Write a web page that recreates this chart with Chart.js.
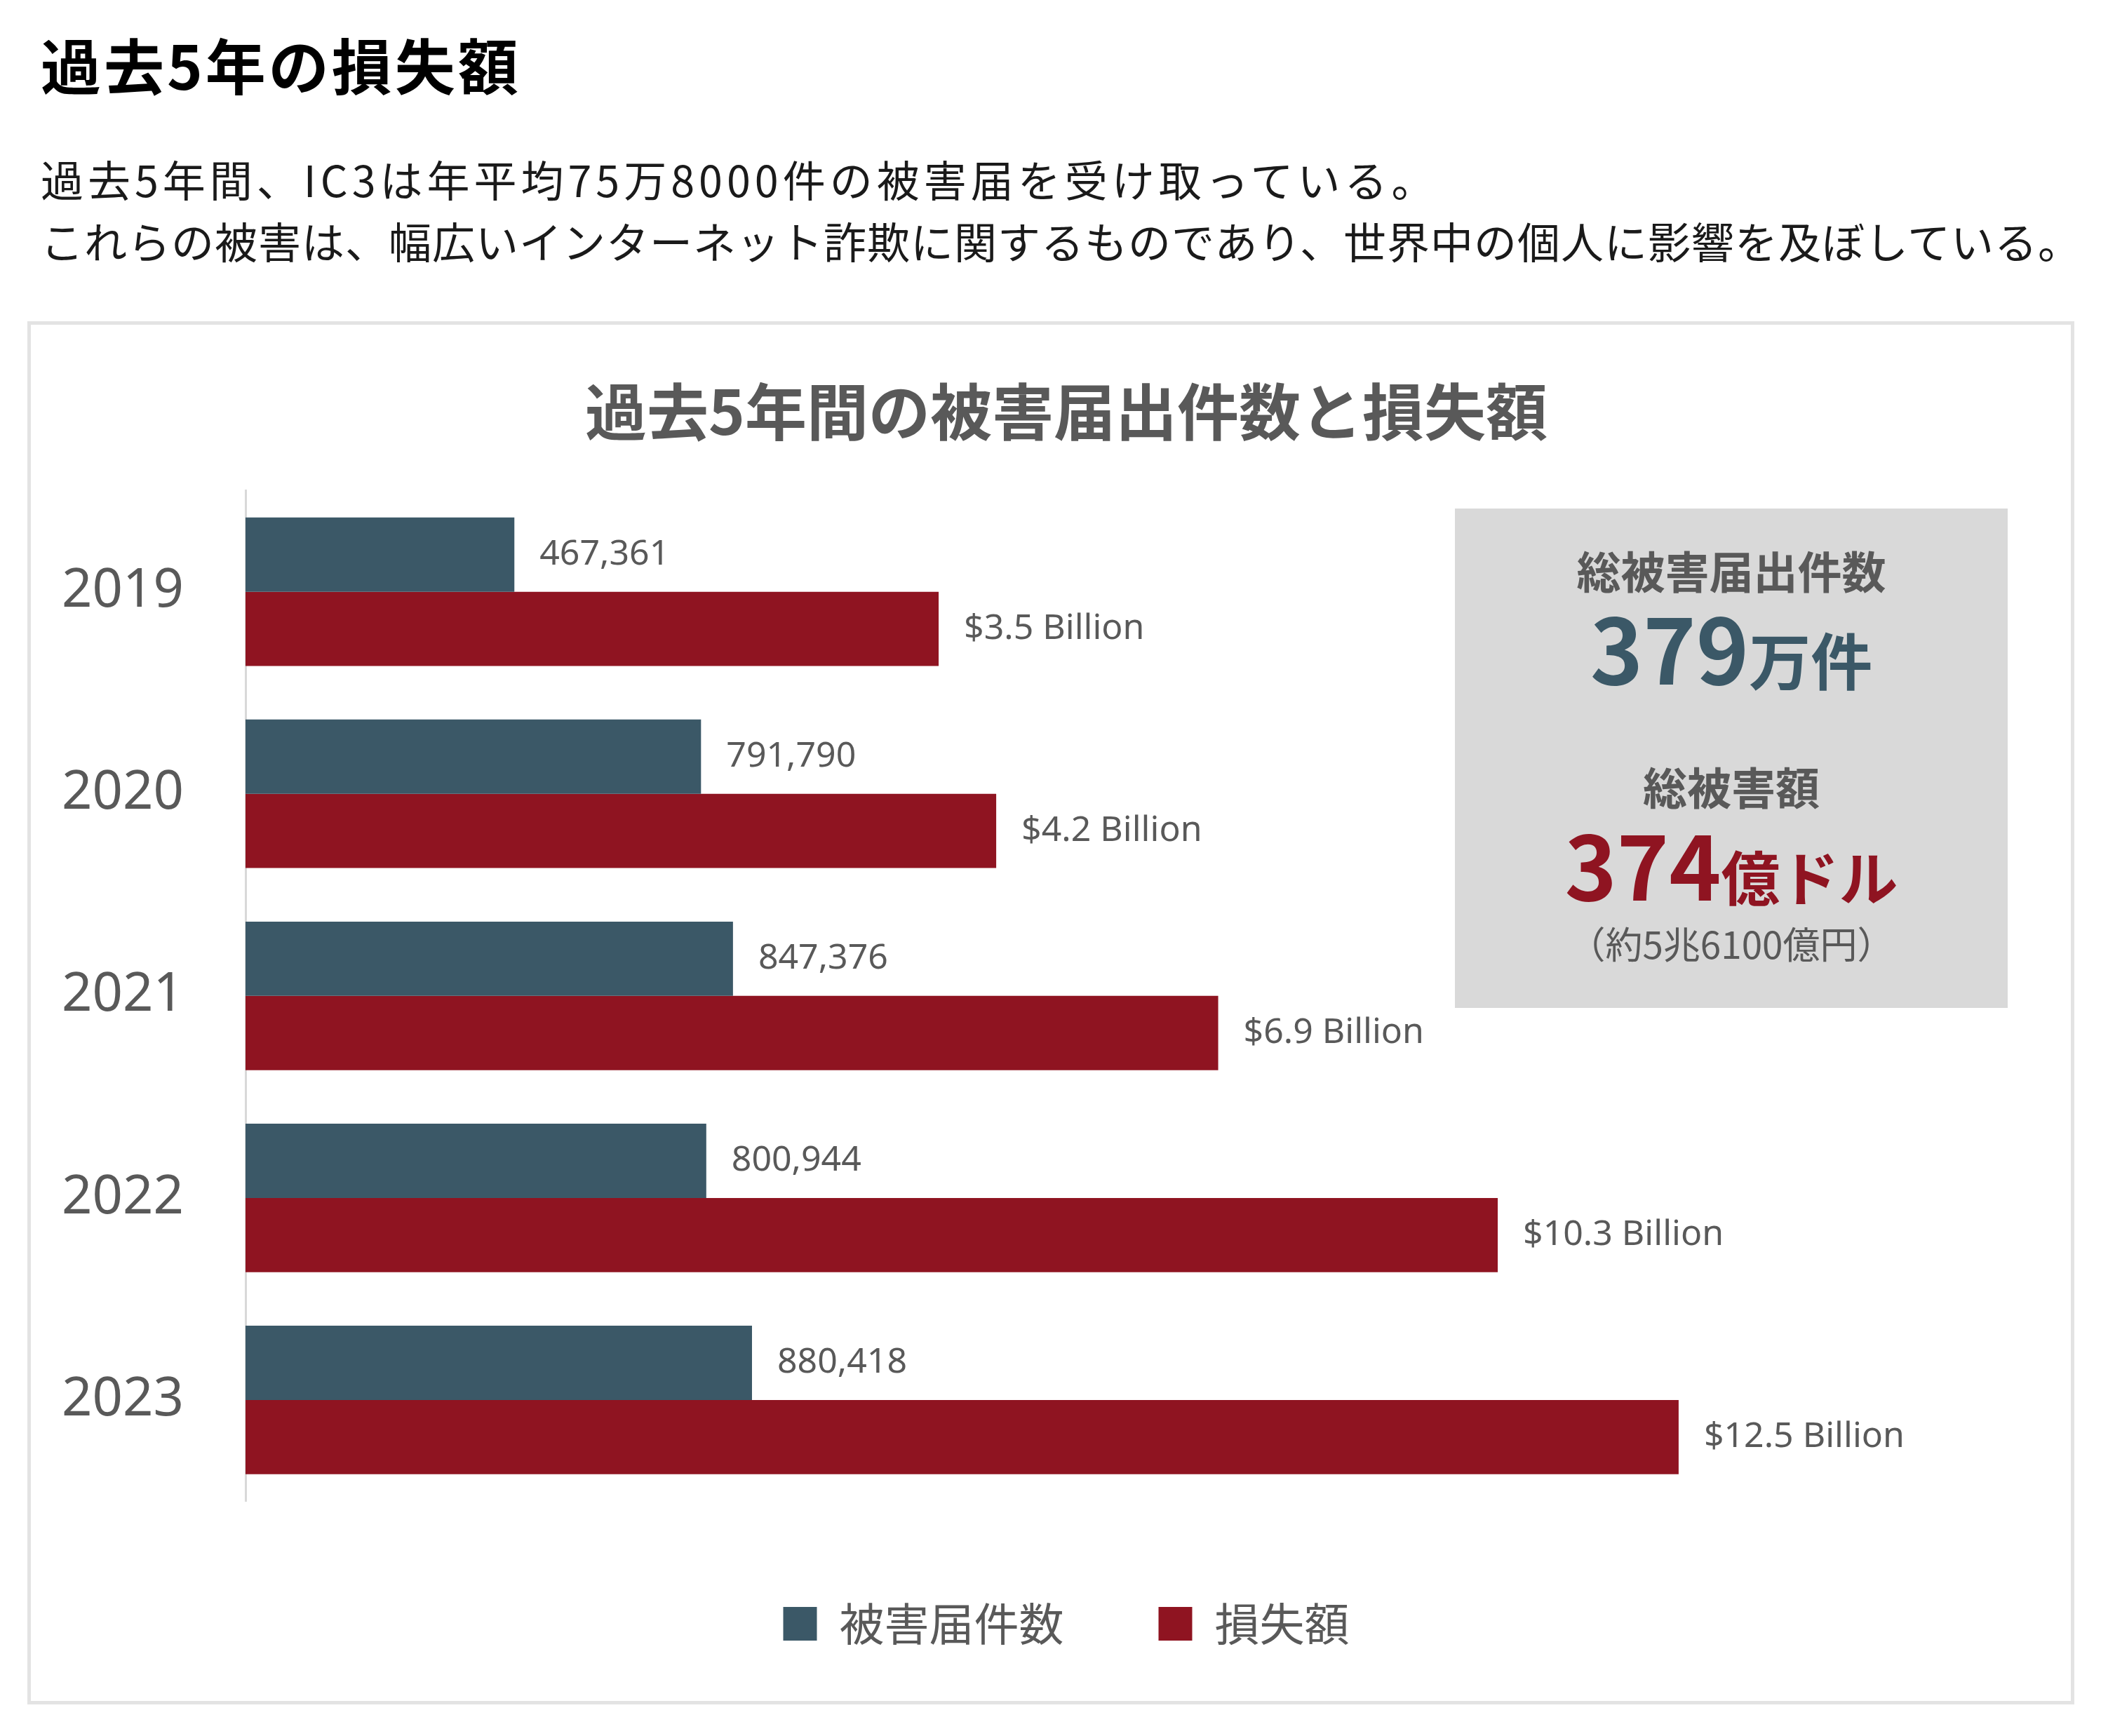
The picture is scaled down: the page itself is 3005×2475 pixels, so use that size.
<!DOCTYPE html>
<html lang="ja">
<head>
<meta charset="utf-8">
<script src="https://cdn.jsdelivr.net/npm/chart.js"></script>
<style>
  body { margin: 0; width: 3005px; height: 2475px; background: #fff; overflow: hidden; position: relative;
         font-family: 'Noto Sans CJK JP', 'Noto Sans', sans-serif; }
  .abs { position: absolute; line-height: 1; white-space: nowrap; }
  #frame { position: absolute; left: 39px; top: 458px; width: 2918px; height: 1972px;
           box-sizing: border-box; border: 5px solid #e3e3e3; }
  #frame canvas { position: absolute; left: 0; top: 0; }
  #info { position: absolute; left: 2074px; top: 725px; width: 788px; height: 712px; background: #d9d9d9; z-index: 2; }
  #info .line { position: absolute; left: 0; width: 100%; text-align: center; line-height: 1; white-space: nowrap; font-weight: 700; }
</style>
</head>
<body>
<div class="abs" style="left:58px; top:48px; font-size:86px; font-weight:700; letter-spacing:4px; color:#000;">過去5年の損失額</div>
<div class="abs" style="left:58px; top:224px; font-size:61px; letter-spacing:6px; color:#1a1a1a;">過去5年間、IC3は年平均75万8000件の被害届を受け取っている。</div>
<div class="abs" style="left:58px; top:312px; font-size:61px; letter-spacing:1px; color:#1a1a1a;">これらの被害は、幅広いインターネット詐欺に関するものであり、世界中の個人に影響を及ぼしている。</div>

<div id="frame"></div>

<div id="info">
  <div class="line" style="top:55px; font-size:63px; color:#595959;">総被害届出件数</div>
  <div class="line" style="top:132px; font-size:128px; color:#3b5867;">379<span style="font-size:88px;">万件</span></div>
  <div class="line" style="top:363px; font-size:63px; color:#595959;">総被害額</div>
  <div class="line" style="top:441px; font-size:126px; color:#8f1421;">374<span style="font-size:84px;">億ドル</span></div>
  <div class="line" style="top:593px; font-size:53px; font-weight:400; color:#595959;">（約5兆6100億円）</div>
</div>

<script>
  const years = ['2019', '2020', '2021', '2022', '2023'];
  const complaints = [467361, 791790, 847376, 800944, 880418];
  const lossesBillion = [3.5, 4.2, 6.9, 10.3, 12.5];
  const seriesNames = ['被害届件数', '損失額'];
  const chartTitle = '過去5年間の被害届出件数と損失額';

  const ctx = document.createElement('canvas');
  ctx.width = 2908;
  ctx.height = 1962;
  ctx.style.width = '2908px';
  ctx.style.height = '1962px';
  document.getElementById('frame').appendChild(ctx);

  const grey = '#595959';
  const lossMin = -4.93;

  // value labels to the right of each bar
  const barLabels = {
    id: 'barLabels',
    afterDatasetsDraw(chart) {
      const c = chart.ctx;
      c.save();
      c.font = "50px 'Noto Sans', sans-serif";
      c.fillStyle = grey;
      c.textBaseline = 'middle';
      chart.data.datasets.forEach((ds, i) => {
        chart.getDatasetMeta(i).data.forEach((bar, j) => {
          const v = ds.data[j];
          const txt = i === 0 ? v.toLocaleString('en-US') : '$' + v + ' Billion';
          c.fillText(txt, bar.x + 36, bar.y);
        });
      });
      c.restore();
    }
  };

  Chart.defaults.font.family = "'Noto Sans', 'Noto Sans CJK JP', sans-serif";

  new Chart(ctx, {
    type: 'bar',
    data: {
      labels: years,
      datasets: [{
        label: seriesNames[0],
        data: complaints,
        backgroundColor: '#3b5867',
        borderWidth: 0,
        xAxisID: 'x'
      }, {
        label: seriesNames[1],
        data: lossesBillion,
        backgroundColor: '#8f1421',
        borderWidth: 0,
        xAxisID: 'x2',
        base: lossMin
      }]
    },
    options: {
      indexAxis: 'y',
      responsive: false,
      animation: false,
      categoryPercentage: 0.735,
      barPercentage: 1.0,
      layout: { padding: { left: 44, right: 0, top: 0, bottom: 68 } },
      scales: {
        y: {
          grid: { display: false, drawTicks: false },
          border: { display: true, color: '#d9d9d9', width: 3 },
          ticks: { color: grey, font: { size: 76 }, padding: 88 },
          afterFit: (s) => { s.width = 262; }
        },
        x: {
          min: 0, max: 3173000,
          grid: { display: false, drawTicks: false },
          border: { display: false },
          ticks: { display: false },
          afterFit: (s) => { s.height = 8; }
        },
        x2: {
          position: 'bottom',
          min: lossMin, max: 17.27,
          display: false
        }
      },
      plugins: {
        title: {
          display: true,
          text: chartTitle,
          color: grey,
          font: { size: 88, weight: 'bold', family: "'Noto Sans CJK JP', sans-serif" },
          padding: { top: 71, bottom: 60 }
        },
        legend: {
          position: 'bottom',
          labels: {
            color: grey,
            boxWidth: 48,
            boxHeight: 48,
            padding: 135,
            font: { size: 64, family: "'Noto Sans CJK JP', sans-serif" }
          }
        },
        tooltip: { enabled: false }
      }
    },
    plugins: [barLabels]
  });
</script>
</body>
</html>
